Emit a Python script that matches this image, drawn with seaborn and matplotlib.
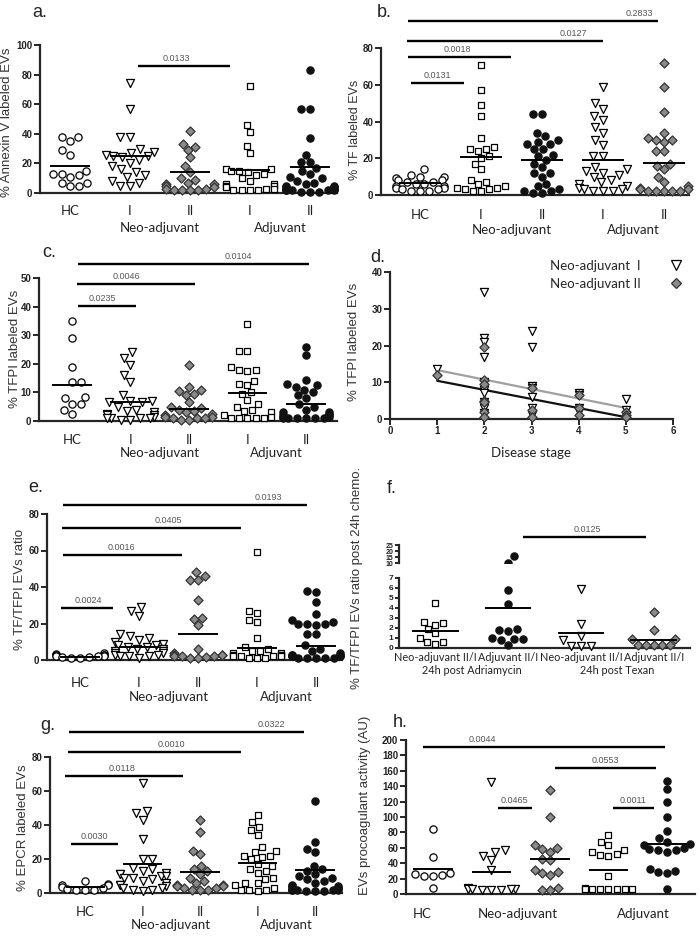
import numpy as np
import pandas as pd
import matplotlib
matplotlib.use("Agg")
import matplotlib.pyplot as plt
from matplotlib.lines import Line2D
import seaborn as sns

sns.set_style("ticks")
plt.rcParams['font.family'] = ['Liberation Sans', 'DejaVu Sans']

# ---------------- data ----------------
groups5 = ["HC", "Neo-adjuvant I", "Neo-adjuvant II", "Adjuvant I", "Adjuvant II"]
ticks5 = ["HC", "I", "II", "I", "II"]

a_hc = [38, 38, 35, 29, 26, 15, 13, 13, 12, 11, 7, 7, 5, 5]
a_neo1 = [74, 57, 38, 38, 30, 28, 27, 26, 25, 25, 24, 22, 20, 18, 16, 14, 12, 11, 8, 7, 5, 5]
a_neo2 = [42, 33, 31, 29, 24, 18, 14, 10, 9, 7, 6, 6, 5, 4, 3, 3, 2, 2, 2, 2]
a_adj1 = [72, 46, 41, 32, 27, 16, 16, 15, 15, 14, 13, 12, 10, 8, 6, 6, 5, 5, 4, 3, 3, 2, 2, 2, 2]
a_adj2 = [83, 57, 57, 37, 26, 21, 21, 17, 15, 13, 11, 10, 8, 7, 6, 5, 5, 4, 4, 3, 3, 3, 2, 2, 2, 2, 2, 1, 1, 1]
a_mean = [18.3, 24.8, 14.5, 15.8, 17.5]

b_hc = [14, 11, 10, 10, 9, 8, 8, 7, 7, 6, 6, 5, 5, 4, 4, 3, 3, 2, 2, 2]
b_neo1 = [71, 57, 49, 43, 31, 26, 25, 25, 24, 21, 20, 17, 14, 8, 7, 6, 5, 4, 4, 3, 3, 2, 2]
b_neo2 = [44, 44, 34, 32, 30, 29, 28, 28, 25, 25, 22, 21, 19, 17, 15, 12, 12, 10, 6, 5, 3, 2, 2, 1, 1]
b_adj1 = [59, 50, 47, 43, 41, 37, 34, 30, 27, 21, 21, 15, 14, 13, 12, 11, 10, 8, 7, 6, 5, 4, 3, 3, 2, 2, 2]
b_adj2 = [72, 59, 45, 34, 31, 30, 30, 29, 24, 24, 17, 16, 14, 10, 7, 5, 4, 3, 3, 2, 2, 2, 2, 2]
b_mean = [6.7, 20.7, 18.9, 18.9, 17.3]

c_hc = [35, 29, 19, 13.5, 13.5, 8.5, 8, 6, 6, 4, 2.5]
c_neo1 = [24, 22, 19.5, 16, 13.5, 9, 7, 7, 6.5, 6.5, 5, 4, 3.5, 3, 2.5, 2, 2, 1.5, 1, 1, 1, 1, 0.5, 0.5]
c_neo2 = [19.5, 12, 11, 10.5, 9.5, 9, 6.5, 5, 4.5, 4, 3.5, 3, 2.5, 2, 1.5, 1.5, 1, 1, 1, 0.5, 0.5]
c_adj1 = [34, 24.5, 24.5, 19, 18, 18, 17.5, 14, 13, 12.5, 10, 9.5, 7.5, 6, 5, 4, 3.5, 3, 2, 1.5, 1, 1, 1, 1, 1]
c_adj2 = [26, 23, 14.5, 13, 12.5, 12, 11, 10, 9, 8, 6, 5, 4, 3, 3, 2.5, 2, 2, 1.5, 1.5, 1, 1, 1, 1, 1, 1]
c_mean = [12.7, 6.8, 4.3, 9.7, 5.8]

d_neo1_stage = [1, 2, 2, 2, 2, 2, 2, 2, 2, 2, 2, 3, 3, 3, 3, 3, 3, 3, 4, 4, 4, 4, 5, 5, 5]
d_neo1_val = [13.5, 34.5, 22, 21, 17, 10, 8, 7, 4.5, 3, 1.5, 24, 19.5, 9, 8.5, 6, 3, 1, 7, 6.5, 3, 2, 5.5, 2.5, 1]
d_neo2_stage = [1, 2, 2, 2, 2, 2, 2, 2, 3, 3, 3, 4, 4, 4, 5, 5, 5]
d_neo2_val = [12, 19.5, 10.5, 9.5, 5, 4.5, 2, 0.5, 8.5, 2.5, 0.5, 6.5, 3, 1, 2, 1, 0.5]
d_fit_stage = [1, 5]
d_fit_gray = [13.3, 3.0]
d_fit_black = [10.4, 0.5]

e_hc = [4, 3.5, 3, 3, 2.5, 2, 2, 2, 1.5, 1.5, 1, 1]
e_neo1 = [29, 27, 24, 14, 13, 12, 11, 10, 9, 8, 8, 7, 7, 6, 6, 5, 5, 4, 4, 3, 3, 2, 2, 2, 1]
e_neo2 = [48, 46, 44, 44, 33, 23, 22.5, 19, 6, 4, 3, 3, 2.5, 2, 2, 2, 1.5, 1, 1]
e_adj1 = [59, 27, 26, 22, 21, 12, 7, 6, 5, 5, 4, 4, 3, 3, 3, 2, 2, 2, 2, 1, 1, 1]
e_adj2 = [38, 37, 32, 25, 22, 21, 20, 20, 20, 19, 14, 14, 8, 6, 5, 4, 3, 3, 3, 2, 2, 2, 2, 1, 1, 1, 1, 1]
e_mean = [1.8, 7.1, 14.1, 6.4, 7.7]

f_groups = ["Neo-adjuvant II/I A", "Adjuvant II/I A", "Neo-adjuvant II/I T", "Adjuvant II/I T"]
f_ticks = ["Neo-adjuvant II/I", "Adjuvant II/I", "Neo-adjuvant II/I", "Adjuvant II/I"]
f_neo_adria = [4.5, 2.6, 2.5, 2.3, 1.9, 1.5, 1.05, 0.6, 0.6, 0.4]
f_adj_adria = [16, 10.4, 5.8, 4.4, 1.9, 1.8, 1.75, 1.05, 0.95, 0.9, 0.8, 0.3]
f_neo_texan = [5.95, 2.4, 1.2, 0.77, 0.25, 0.25, 0.25]
f_adj_texan = [3.6, 1.8, 0.9, 0.9, 0.35, 0.35, 0.35, 0.3, 0.3]
f_mean = [1.75, 4.0, 1.47, 0.77]

g_hc = [7, 5.5, 5, 4.5, 3.5, 3, 2.5, 2, 2, 1.5]
g_neo1 = [65, 48, 47, 43, 32, 20, 20, 15, 14, 13, 12, 11, 11, 10, 10, 9, 9, 8, 7, 6, 5, 5, 4, 3, 3, 2, 2, 1]
g_neo2 = [43, 36, 25, 23, 16, 14, 13, 11, 9, 7, 6, 5, 5, 4, 4, 3, 3, 2, 2, 2]
g_adj1 = [46, 42, 39, 37, 34, 27, 25, 24, 22, 22, 21, 20, 17, 16, 14, 13, 12, 9, 8, 6, 6, 5, 3, 2, 2, 2, 1]
g_adj2 = [54, 30, 26, 24, 16, 14, 13, 11, 10, 9, 8, 7, 6, 5, 4, 4, 3, 3, 3, 2, 2, 2, 2, 2, 1, 1, 1]
g_mean = [3.5, 17, 12.6, 17.5, 13.7]

h_hc = [85, 48, 27, 26, 25, 24, 23, 8]
h_neo1 = [145, 57, 55, 50, 44, 31, 8, 7, 7, 6, 6, 5, 5, 5]
h_neo2 = [135, 100, 63, 60, 58, 55, 45, 44, 31, 28, 27, 25, 8, 5, 5]
h_adj1 = [77, 68, 63, 57, 54, 52, 51, 50, 24, 8, 7, 7, 7, 7, 6, 6, 6]
h_adj2 = [147, 136, 120, 100, 82, 73, 68, 65, 63, 60, 58, 57, 57, 55, 32, 30, 28, 27, 6]
h_mean = [32, 28, 45, 31, 65]

# significance annotations: (x start, x end, y, label, label x)
a_sig = [(1.13, 2.67, 86, "0.0133", 1.77)]
b_sig = [(-0.15, 0.72, 61, "0.0131", 0.28), (-0.2, 1.49, 75, "0.0018", 0.62),
         (-0.21, 3.0, 83.8, "0.0127", 2.51), (-0.2, 3.9, 94.7, "0.2833", 3.6)]
c_sig = [(0.1, 1.09, 40.2, "0.0235", 0.53), (0.09, 2.1, 47.9, "0.0046", 0.94),
         (0.1, 4.05, 54.9, "0.0104", 2.84)]
e_sig = [(-0.32, 0.56, 28.5, "0.0024", 0.14), (-0.29, 1.73, 57.5, "0.0016", 0.71),
         (-0.3, 2.73, 72.3, "0.0405", 1.49), (-0.29, 3.85, 85, "0.0193", 3.19)]
f_sig = [(1.21, 2.89, 31.7, "0.0125", 2.09)]
g_sig = [(-0.24, 0.57, 28.8, "0.0030", 0.17), (-0.35, 1.7, 68.8, "0.0118", 0.64),
         (-0.3, 2.71, 83, "0.0010", 1.5), (-0.28, 3.81, 94.7, "0.0322", 3.25)]
h_sig = [(-0.17, 3.97, 191, "0.0044", 0.85), (2.09, 3.81, 164, "0.0553", 2.94),
         (1.11, 1.69, 112, "0.0465", 1.4), (3.08, 3.78, 112, "0.0011", 3.42)]

# ---------------- styles ----------------
STY = {
    'oc': dict(marker='o', face='white', edge='black', size=5.2),
    'ot': dict(marker='v', face='white', edge='black', size=5.8),
    'gd': dict(marker='D', face='#8a8a8a', edge='#333333', size=4.6),
    'os': dict(marker='s', face='white', edge='black', size=4.8),
    'bc': dict(marker='o', face='#111111', edge='#111111', size=5.2),
}
STD = ['oc', 'ot', 'gd', 'os', 'bc']
CAT_FONT = ['Lato', 'DejaVu Sans']

W, H = 700, 936
fig = plt.figure(figsize=(7, 9.36), dpi=100)


def add_ax(box):
    x0, y0, x1, y1 = box
    return fig.add_axes([x0 / W, 1 - y1 / H, (x1 - x0) / W, (y1 - y0) / H])


def frac(box, px, py):
    x0, y0, x1, y1 = box
    return (px - x0) / (x1 - x0), (y1 - py) / (y1 - y0)


def style_axes(ax, ylim, yticks, xlim, ysize=7):
    ax.set_xlim(*xlim)
    ax.set_ylim(*ylim)
    ax.set_yticks(yticks)
    ax.set_yticklabels([f"{t:g}" for t in yticks], fontweight='bold', fontsize=ysize, color='#222222')
    sns.despine(ax=ax)
    for s in ['left', 'bottom']:
        ax.spines[s].set_linewidth(1.6)
    ax.tick_params(axis='y', direction='out', length=4, width=1.4, pad=1.5)
    ax.set_xlabel('')


def swarm_one(ax, order, g, vals, st):
    kw = STY[st]
    df = pd.DataFrame({'group': [g] * len(vals), 'value': vals})
    sns.swarmplot(data=df, x='group', y='value', order=order, ax=ax, size=kw['size'],
                  marker=kw['marker'], color=kw['face'], edgecolor=kw['edge'],
                  linewidth=0.9, warn_thresh=1)


def swarm(ax, order, series, styles, clip=False):
    for g, vals, st in zip(order, series, styles):
        if vals:
            swarm_one(ax, order, g, vals, st)
    if not clip:
        for coll in ax.collections:
            coll.set_clip_on(False)


def means(ax, vals, half=0.34):
    for i, m in enumerate(vals):
        ax.hlines(m, i - half, i + half, color='black', lw=1.4, zorder=5)


def sig(ax, items, fs=6.5):
    for x0, x1, y, txt, tx in items:
        ax.plot([x0, x1], [y, y], color='black', lw=1.7, clip_on=False, solid_capstyle='butt')
        ax.annotate(txt, (tx, y), xytext=(0, 3), textcoords='offset pixels', ha='center',
                    va='bottom', fontsize=fs, color='#555555', annotation_clip=False)


def ylabel(ax, box, text, px, py, fs=9.5):
    ax.set_ylabel(text, fontsize=fs, color='#333333')
    fx, fy = frac(box, px, py)
    ax.yaxis.set_label_coords(fx, fy)
    ax.yaxis.label.set_va('center')


def cat_labels(ax, ticks, pad, group_dy, groups=(("Neo-adjuvant", 1.5), ("Adjuvant", 3.5)), fs=9.5):
    ax.set_xticks(range(len(ticks)))
    ax.set_xticklabels(ticks, fontsize=fs, family=CAT_FONT, color='#222222')
    ax.tick_params(axis='x', length=0, pad=pad)
    for txt, x in groups:
        ax.annotate(txt, (x, 0), xycoords=('data', 'axes fraction'), xytext=(0, -group_dy),
                    textcoords='offset pixels', ha='center', va='center', fontsize=fs,
                    family=CAT_FONT, color='#222222')


def letter(txt, px, py):
    fig.text(px / W, 1 - py / H, txt, fontsize=13, ha='left', va='baseline', color='#222222')


# ---------------- panel a ----------------
box = (40, 45, 337, 193)
ax = add_ax(box)
swarm(ax, groups5, [a_hc, a_neo1, a_neo2, a_adj1, a_adj2], STD)
style_axes(ax, (0, 100), [0, 20, 40, 60, 80, 100], (-0.5, 4.45))
means(ax, a_mean)
sig(ax, a_sig)
cat_labels(ax, ticks5, 9, 35)
ylabel(ax, box, "% Annexin V labeled EVs", 7, 122)
letter("a.", 32, 17)

# ---------------- panel b ----------------
box = (381, 48, 689, 195)
ax = add_ax(box)
swarm(ax, groups5, [b_hc, b_neo1, b_neo2, b_adj1, b_adj2], ['oc', 'os', 'bc', 'ot', 'gd'])
style_axes(ax, (0, 80), [0, 20, 40, 60, 80], (-0.64, 4.41))
means(ax, b_mean)
sig(ax, b_sig)
cat_labels(ax, ticks5, 10, 35)
ylabel(ax, box, "% TF labeled EVs", 355, 130, fs=9)
letter("b.", 377, 17)

# ---------------- panel c ----------------
box = (39, 278, 337, 421)
ax = add_ax(box)
swarm(ax, groups5, [c_hc, c_neo1, c_neo2, c_adj1, c_adj2], STD)
style_axes(ax, (0, 50), [0, 10, 20, 30, 40, 50], (-0.56, 4.53))
means(ax, c_mean)
sig(ax, c_sig)
cat_labels(ax, ticks5, 9, 32)
ylabel(ax, box, "% TFPI labeled EVs", 15, 349)
letter("c.", 42, 257)

# ---------------- panel d ----------------
box = (390, 272, 673, 419)
ax = add_ax(box)
sns.lineplot(x=d_fit_stage, y=d_fit_gray, ax=ax, color='#a0a0a0', lw=1.6, errorbar=None)
sns.lineplot(x=d_fit_stage, y=d_fit_black, ax=ax, color='#111111', lw=1.6, errorbar=None)
sns.scatterplot(x=d_neo1_stage, y=d_neo1_val, ax=ax, marker='v', s=34, color='white',
                edgecolor='black', linewidth=0.9, legend=False, zorder=3)
sns.scatterplot(x=d_neo2_stage, y=d_neo2_val, ax=ax, marker='D', s=22, color='#8a8a8a',
                edgecolor='#333333', linewidth=0.9, legend=False, zorder=3)
for coll in ax.collections:
    coll.set_clip_on(False)
style_axes(ax, (0, 40), [0, 10, 20, 30, 40], (0, 6))
ax.set_xticks(range(7))
ax.set_xticklabels([str(i) for i in range(7)], fontweight='bold', fontsize=7, color='#222222')
ax.tick_params(axis='x', direction='out', length=4, width=1.4, pad=1)
ax.set_xlabel("Disease stage", fontsize=9.5, family=CAT_FONT, color='#222222')
fx, fy = frac(box, 531, 453)
ax.xaxis.set_label_coords(fx, fy)
ax.xaxis.label.set_va('center')
ylabel(ax, box, "% TFPI labeled EVs", 354, 342)
leg_handles = [
    Line2D([], [], ls='', marker='v', ms=6.5, mfc='white', mec='black', mew=0.9, label='Neo-adjuvant  I'),
    Line2D([], [], ls='', marker='D', ms=5, mfc='#8a8a8a', mec='#333333', mew=0.9, label='Neo-adjuvant II'),
]
ax.legend(handles=leg_handles, loc='upper left', bbox_to_anchor=(550 / W, 1 - 260 / H),
          bbox_transform=fig.transFigure, frameon=False, markerfirst=False,
          prop={'family': CAT_FONT, 'size': 9.5}, handlelength=1.0, handletextpad=2.2,
          labelspacing=0.45, borderaxespad=0, borderpad=0)
letter("d.", 370, 262)

# ---------------- panel e ----------------
box = (47, 514, 342, 660)
ax = add_ax(box)
swarm(ax, groups5, [e_hc, e_neo1, e_neo2, e_adj1, e_adj2], STD)
style_axes(ax, (0, 80), [0, 20, 40, 60, 80], (-0.56, 4.44))
means(ax, e_mean)
sig(ax, e_sig)
cat_labels(ax, ticks5, 12, 37)
ylabel(ax, box, "% TF/TFPI EVs ratio", 20, 590)
letter("e.", 28, 492)

# ---------------- panel f (broken axis) ----------------
box_up = (399, 545, 690, 563)
box_lo = (399, 578, 690, 648)
ax_up = add_ax(box_up)
ax_lo = add_ax(box_lo)
f_series = [f_neo_adria, f_adj_adria, f_neo_texan, f_adj_texan]
f_styles = ['os', 'bc', 'ot', 'gd']
up_series = [[v for v in s if v >= 10] for s in f_series]
lo_series = [[v for v in s if v < 10] for s in f_series]
swarm(ax_up, f_groups, up_series, f_styles, clip=True)
swarm(ax_lo, f_groups, lo_series, f_styles)
style_axes(ax_up, (10, 25), [10, 15, 20, 25], (-0.5, 3.5), ysize=5)
ax_up.tick_params(axis='y', length=3, pad=1)
ax_up.spines['bottom'].set_visible(False)
ax_up.set_xticks([])
ax_up.set_ylabel('')
style_axes(ax_lo, (0, 7), list(range(8)), (-0.5, 3.5), ysize=6)
ax_lo.tick_params(axis='y', length=3, pad=1)
means(ax_lo, f_mean, half=0.32)
sig(ax_up, f_sig)
cat_labels(ax_lo, f_ticks, 3, 23, groups=(("24h post Adriamycin", 0.5), ("24h post Texan", 2.5)), fs=7.8)
ylabel(ax_lo, box_lo, "% TF/TFPI EVs ratio post 24h chemo.", 357, 578)
letter("f.", 387, 493)

# ---------------- panel g ----------------
box = (50, 757, 342, 893)
ax = add_ax(box)
swarm(ax, groups5, [g_hc, g_neo1, g_neo2, g_adj1, g_adj2], STD)
style_axes(ax, (0, 80), [0, 20, 40, 60, 80], (-0.61, 4.47))
means(ax, g_mean)
sig(ax, g_sig)
cat_labels(ax, ticks5, 9, 32)
ylabel(ax, box, "% EPCR labeled EVs", 23, 828)
letter("g.", 40, 730)

# ---------------- panel h ----------------
box = (406, 740, 695, 894)
ax = add_ax(box)
swarm(ax, groups5, [h_hc, h_neo1, h_neo2, h_adj1, h_adj2], STD)
style_axes(ax, (0, 200), list(range(0, 201, 20)), (-0.46, 4.48))
means(ax, h_mean)
sig(ax, h_sig)
ax.set_xticks([-0.19, 1.45, 3.59])
ax.set_xticklabels(["HC", "Neo-adjuvant", "Adjuvant"], fontsize=9.5, family=CAT_FONT, color='#222222')
ax.tick_params(axis='x', length=0, pad=10)
ylabel(ax, box, "EVs procoagulant activity (AU)", 365, 805)
letter("h.", 393, 727)

fig.savefig("out.png", dpi=100)
